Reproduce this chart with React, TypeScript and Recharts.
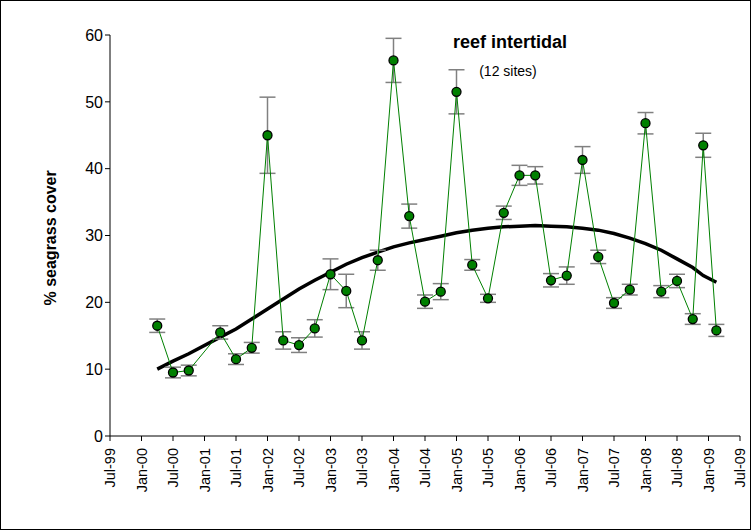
import { ComposedChart, Line, XAxis, YAxis, ErrorBar } from 'recharts'

// months since Jul-99
const months = [9, 12, 15, 21, 24, 27, 30, 33, 36, 39, 42, 45, 48, 51, 54, 57, 60, 63, 66, 69, 72, 75, 78, 81, 84, 87, 90, 93, 96, 99, 102, 105, 108, 111, 113, 115.5]
const cover = [16.5, 9.5, 9.8, 15.5, 11.5, 13.2, 45, 14.3, 13.6, 16.1, 24.2, 21.7, 14.3, 26.3, 56.2, 32.9, 20.1, 21.6, 51.5, 25.6, 20.6, 33.4, 39, 39, 23.3, 24, 41.3, 26.8, 19.9, 21.9, 46.8, 21.6, 23.2, 17.5, 43.5, 15.8]
const stdErr = [1, 0.8, 0.8, 1, 0.8, 0.8, 5.7, 1.3, 1.1, 1.3, 2.3, 2.5, 1.3, 1.5, 3.3, 1.8, 1, 1.2, 3.3, 0.8, 0.6, 1, 1.5, 1.3, 1, 1.3, 2, 1, 0.8, 0.8, 1.6, 0.9, 1, 0.8, 1.8, 0.9]
const trend = [10, 11.2, 12.3, 14.8, 16, 17.5, 19, 20.5, 22, 23.3, 24.5, 25.7, 26.7, 27.5, 28.3, 28.9, 29.4, 29.9, 30.4, 30.8, 31.1, 31.3, 31.4, 31.5, 31.4, 31.3, 31.1, 30.8, 30.3, 29.6, 28.8, 27.8, 26.5, 25.2, 24, 23]

const tickMonths = Array.from({ length: 21 }, (_, i) => i * 6)
const tickLabels = ['Jul-99', 'Jan-00', 'Jul-00', 'Jan-01', 'Jul-01', 'Jan-02', 'Jul-02', 'Jan-03', 'Jul-03', 'Jan-04', 'Jul-04', 'Jan-05', 'Jul-05', 'Jan-06', 'Jul-06', 'Jan-07', 'Jul-07', 'Jan-08', 'Jul-08', 'Jan-09', 'Jul-09']
const yTicks = [0, 10, 20, 30, 40, 50, 60]

const FONT = 'Liberation Sans, Arial, sans-serif'

const data = months.map((m, i) => ({ m, cover: cover[i], err: stdErr[i], trend: trend[i] }))

// eslint-disable-next-line @typescript-eslint/no-explicit-any
function DateTick({ x, y, payload }: any) {
  const label = tickLabels[tickMonths.indexOf(payload.value)] ?? ''
  return (
    <text x={x + 5} y={y + 5} transform={`rotate(-90 ${x + 5} ${y + 5})`} textAnchor="end"
      fontSize={14.5} fontFamily={FONT} fill="#000">{label}</text>
  )
}

export default function App() {
  return (
    <div style={{ position: 'fixed', left: 0, top: 0, width: 751, height: 530, background: '#fff' }}>
      <div style={{ position: 'absolute', left: 0, top: 0, width: 749, height: 528, border: '1px solid #000' }} />
      <ComposedChart width={751} height={530} data={data} margin={{ top: 35, right: 11, bottom: 28, left: 20 }}>
        <XAxis dataKey="m" type="number" domain={[0, 120]} ticks={tickMonths} interval={0}
          tick={<DateTick />} height={66} stroke="#000" tickSize={5} />
        <YAxis domain={[0, 60]} ticks={yTicks} width={90} stroke="#000" tickSize={5}
          tick={{ fontSize: 16, fontFamily: FONT, fill: '#000' }}
          label={{ value: '% seagrass cover', angle: -90, position: 'insideLeft', offset: 30, dy: 70,
            style: { fontSize: 16, fontWeight: 'bold', fontFamily: FONT, fill: '#000' } }} />
        <Line dataKey="trend" stroke="#000" strokeWidth={3.5} dot={false} isAnimationActive={false} type="linear" />
        <Line dataKey="cover" stroke="#008000" strokeWidth={1} isAnimationActive={false}
          dot={{ r: 4.5, fill: '#008000', stroke: '#000', strokeWidth: 1.3 }}>
          <ErrorBar dataKey="err" stroke="#808080" strokeWidth={1.5} width={8} />
        </Line>
        <text x={510} y={48} textAnchor="middle" fontSize={18} fontWeight="bold" fontFamily={FONT}>reef intertidal</text>
        <text x={508} y={76} textAnchor="middle" fontSize={14} fontFamily={FONT}>(12 sites)</text>
      </ComposedChart>
    </div>
  )
}
